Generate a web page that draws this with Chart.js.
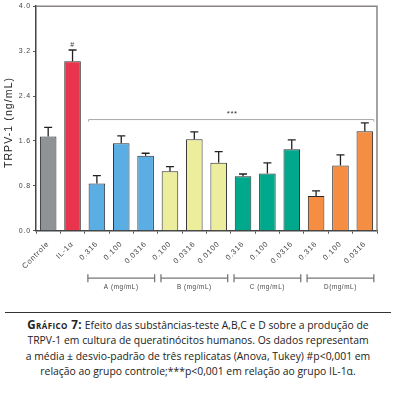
<!DOCTYPE html>
<html><head><meta charset="utf-8">
<script src="https://cdn.jsdelivr.net/npm/chart.js@4"></script>
<style>
body{margin:0;background:#fff;width:396px;height:393px;overflow:hidden;position:relative}
#wrap{position:absolute;left:0;top:0;width:396px;height:300px}
#rule{position:absolute;left:5px;top:312px;width:386px;height:0;border-top:1px solid #333}
#cap{position:absolute;left:0;top:317px;width:396px;text-align:center;font-family:"Open Sans";font-size:10.4px;line-height:15.3px;color:#222;white-space:nowrap}
#cap b{font-variant:small-caps;font-size:11.6px;letter-spacing:0.4px}
</style></head>
<body>
<div id="wrap"><canvas id="c"></canvas></div>
<div id="rule"></div>
<div id="cap"><b>Gráfico 7:</b> Efeito das substâncias-teste A,B,C e D sobre a produção de<br>TRPV-1 em cultura de queratinócitos humanos. Os dados representam<br>a média ± desvio-padrão de três replicatas (Anova, Tukey) #p&lt;0,001 em<br>relação ao grupo controle;***p&lt;0,001 em relação ao grupo IL-1α.</div>
<script>
const categories = ['Controle','IL-1α','0.316','0.100','0.0316','0.100','0.0316','0.0100','0.316','0.100','0.0316','0.316','0.100','0.0316'];
const means = [1.68,3.02,0.84,1.56,1.335,1.06,1.63,1.21,0.97,1.02,1.45,0.62,1.16,1.77];
const sds = [0.16,0.20,0.14,0.13,0.045,0.08,0.13,0.20,0.04,0.19,0.17,0.09,0.19,0.15];
const barColors = ['#8f9396','#e8344c','#5aaee3','#5aaee3','#5aaee3','#eded9e','#eded9e','#eded9e','#00a98b','#00a98b','#00a98b','#f58d42','#f58d42','#f58d42'];
const groupLabels = ['A (mg/mL)','B (mg/mL)','C (mg/mL)','D(mg/mL)'];
const groupStarts = [2,5,8,11];
const groupSize = 3;
const sigLineValue = 1.98;
const sigFrom = 2, sigTo = 13;
const yTicks = [0,0.8,1.6,2.4,3.2,4.0];
const yTitle = 'TRPV-1 (ng/mL)';

const spacing = {
  id:'spacing',
  beforeDraw(chart){ chart.ctx.letterSpacing = '0.8px'; }
};

const overlay = {
  id:'overlay',
  afterDatasetsDraw(chart){
    const ctx = chart.ctx, x = chart.scales.x, y = chart.scales.y, a = chart.chartArea;
    ctx.save();
    // error bars
    ctx.strokeStyle = '#222'; ctx.lineWidth = 1.3;
    means.forEach((m,i)=>{
      const cx = x.getPixelForValue(i);
      const y0 = y.getPixelForValue(m), y1 = y.getPixelForValue(m+sds[i]);
      ctx.beginPath(); ctx.moveTo(cx,y0); ctx.lineTo(cx,y1);
      ctx.moveTo(cx-4,y1); ctx.lineTo(cx+4,y1); ctx.stroke();
    });
    // frame top/right
    ctx.strokeStyle = '#8a8484'; ctx.lineWidth = 1.5;
    ctx.beginPath(); ctx.moveTo(a.left,a.top); ctx.lineTo(a.right,a.top); ctx.lineTo(a.right,a.bottom); ctx.stroke();
    // significance line
    const cat = x.getPixelForValue(1)-x.getPixelForValue(0);
    const sy = y.getPixelForValue(sigLineValue);
    const sx0 = x.getPixelForValue(sigFrom)-0.34*cat, sx1 = x.getPixelForValue(sigTo)+0.37*cat;
    ctx.strokeStyle = '#a8a8a8'; ctx.lineWidth = 1;
    ctx.beginPath(); ctx.moveTo(sx0,sy+2); ctx.lineTo(sx0,sy); ctx.lineTo(sx1,sy); ctx.lineTo(sx1,sy+2); ctx.stroke();
    ctx.fillStyle = '#333'; ctx.font = '8px "Liberation Sans"'; ctx.textAlign='center'; ctx.textBaseline='alphabetic';
    ctx.letterSpacing = '0.5px';
    ctx.fillText('***', (sx0+sx1)/2+1, sy-4);
    // # marker
    ctx.font = '7px "Liberation Sans"';
    ctx.fillText('#', x.getPixelForValue(1), y.getPixelForValue(means[1]+sds[1])-3);
    // group brackets
    const by = a.bottom + 47.5;
    ctx.strokeStyle = '#777'; ctx.lineWidth = 1.3;
    ctx.font = '6.3px "Liberation Sans"'; ctx.fillStyle='#444'; ctx.textBaseline='middle';
    ctx.letterSpacing = '0.6px';
    groupStarts.forEach((s,g)=>{
      const gx0 = x.getPixelForValue(s)-0.37*cat, gx1 = x.getPixelForValue(s+groupSize-1)+0.37*cat;
      ctx.beginPath();
      ctx.moveTo(gx0,by-4); ctx.lineTo(gx0,by+4);
      ctx.moveTo(gx1,by-4); ctx.lineTo(gx1,by+4);
      ctx.moveTo(gx0,by); ctx.lineTo(gx1,by); ctx.stroke();
      ctx.fillText(groupLabels[g], (gx0+gx1)/2, by+9);
    });
    // y title
    ctx.letterSpacing = '1.1px';
    ctx.translate(9, (a.top+a.bottom)/2+4);
    ctx.rotate(-Math.PI/2);
    ctx.font = '10.5px "Liberation Sans"'; ctx.fillStyle='#222';
    ctx.textAlign='center'; ctx.textBaseline='middle';
    ctx.fillText(yTitle,0,0);
    ctx.restore();
  }
};

new Chart(document.getElementById('c'),{
  type:'bar',
  data:{labels:categories,datasets:[{data:means,backgroundColor:barColors,borderColor:'#2b2b2b',borderWidth:1,barPercentage:0.68,categoryPercentage:1}]},
  options:{
    responsive:true,maintainAspectRatio:false,animation:false,
    layout:{padding:{top:4,right:19,left:0,bottom:0}},
    plugins:{legend:{display:false},tooltip:{enabled:false}},
    scales:{
      x:{grid:{display:true,drawOnChartArea:false,drawTicks:true,tickLength:3,color:'#555'},
         border:{color:'#444',width:1.5},
         ticks:{autoSkip:false,maxRotation:45,minRotation:45,padding:6,color:'#444',font:{size:7.5,family:'"Liberation Sans", Arial'}},
         afterFit(s){s.height=69.3;}},
      y:{min:0,max:4,
         afterBuildTicks(s){s.ticks=yTicks.map(v=>({value:v}));},
         grid:{display:true,drawOnChartArea:false,drawTicks:true,tickLength:3,color:'#555'},
         border:{color:'#444',width:1.5},
         ticks:{padding:2,color:'#444',font:{size:7,family:'"Liberation Sans", Arial'},callback:v=>Number(v).toFixed(1)},
         afterFit(s){s.width=36;}}
    }
  },
  plugins:[spacing,overlay]
});
</script>
</body></html>
